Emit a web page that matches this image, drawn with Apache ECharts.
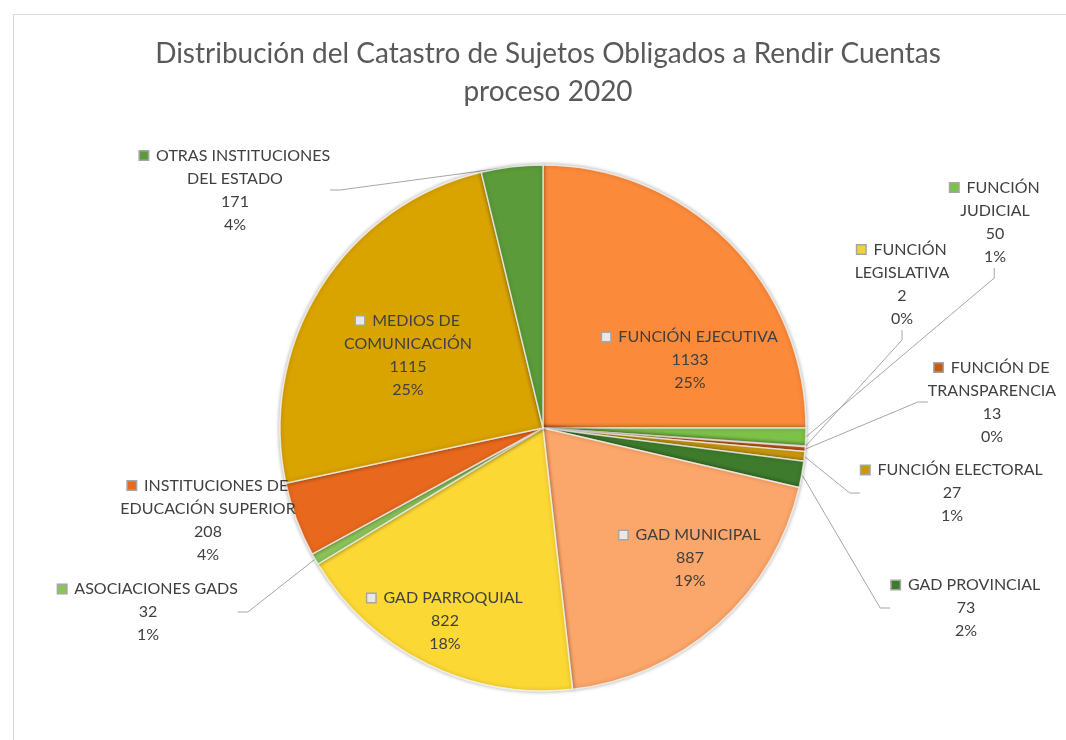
<!DOCTYPE html>
<html>
<head>
<meta charset="utf-8">
<script src="https://cdn.jsdelivr.net/npm/echarts@6/dist/echarts.min.js"></script>
<style>
    html, body { margin: 0; padding: 0; background: #ffffff; }
    #frame {
        position: absolute; left: 13px; top: 14px; width: 1100px; height: 800px;
        border: 1px solid #d9d9d9; box-sizing: border-box;
    }
    #chart { position: absolute; left: 0; top: 0; width: 1066px; height: 740px; }
</style>
</head>
<body>
<div id="frame"></div>
<div id="chart"></div>
<script>
    // categorias en el orden del grafico (desde arriba, sentido horario)
    var categories = [
        'FUNCIÓN EJECUTIVA', 'FUNCIÓN\nJUDICIAL', 'FUNCIÓN\nLEGISLATIVA', 'FUNCIÓN DE\nTRANSPARENCIA',
        'FUNCIÓN ELECTORAL', 'GAD PROVINCIAL', 'GAD MUNICIPAL', 'GAD PARROQUIAL',
        'ASOCIACIONES GADS', 'INSTITUCIONES DE\nEDUCACIÓN SUPERIOR', 'MEDIOS DE\nCOMUNICACIÓN',
        'OTRAS INSTITUCIONES\nDEL ESTADO'
    ];
    var values = [1133, 50, 2, 13, 27, 73, 887, 822, 32, 208, 1115, 171];
    var percents = ['25%', '1%', '0%', '0%', '1%', '2%', '19%', '18%', '1%', '4%', '25%', '4%'];

    var colors = ['#fb8a3a', '#7dc148', '#f2d23a', '#c85a18', '#c99a10', '#3e7b2c',
                  '#fba66a', '#fcd835', '#8cc45a', '#e8691e', '#d9a300', '#5b9b3a'];
    // etiquetas dentro del pastel
    var insideIdx = [0, 6, 7, 10];
    // sin linea guia
    var noLineIdx = [0, 6, 7, 9, 10];
    // centro de cada etiqueta
    var labelPos = [
        [690, 360], [995, 222], [902, 284], [992, 402], [952, 493], [966, 608],
        [690, 558], [445, 621], [148, 612], [208, 520], [408, 355], [235, 190]
    ];

    var chart = echarts.init(document.getElementById('chart'));

    var data = values.map(function (v, i) {
        var inside = insideIdx.indexOf(i) >= 0;
        return {
            value: v,
            name: categories[i],
            itemStyle: { color: colors[i] },
            label: {
                rich: {
                    sq: {
                        width: 8, height: 8,
                        backgroundColor: inside ? '#e8e8e8' : colors[i],
                        borderColor: '#a6a6a6', borderWidth: 1.5
                    }
                }
            },
            labelLine: { show: noLineIdx.indexOf(i) < 0 }
        };
    });

    var options = {
        title: {
            text: 'Distribución del Catastro de Sujetos Obligados a Rendir Cuentas\nproceso 2020',
            left: 543,
            textAlign: 'center',
            top: 30,
            textStyle: {
                fontFamily: 'Lato',
                fontWeight: 'normal',
                fontSize: 28,
                lineHeight: 38,
                color: '#595959'
            }
        },
        series: [
            {
                type: 'pie',
                center: [543, 428],
                radius: 263,
                startAngle: 90,
                clockwise: true,
                avoidLabelOverlap: false,
                animation: false,
                data: data,
                itemStyle: {
                    borderColor: 'rgba(255,255,255,0.7)',
                    borderWidth: 1.5,
                    shadowBlur: 4,
                    shadowColor: 'rgba(0,0,0,0.35)'
                },
                label: {
                    show: true,
                    position: 'outside',
                    fontFamily: 'Lato',
                    fontSize: 16,
                    lineHeight: 23,
                    color: '#404040',
                    align: 'center',
                    formatter: function (p) {
                        return '{sq|}  ' + p.name + '\n' + p.value + '\n' + percents[p.dataIndex];
                    }
                },
                labelLine: {
                    length: 10,
                    length2: 10,
                    lineStyle: { color: '#a6a6a6', width: 1 }
                },
                labelLayout: function (params) {
                    var pos = labelPos[params.dataIndex];
                    return {
                        x: pos[0],
                        y: pos[1],
                        align: 'center',
                        verticalAlign: 'middle'
                    };
                }
            }
        ]
    };

    chart.setOption(options);
</script>
</body>
</html>
